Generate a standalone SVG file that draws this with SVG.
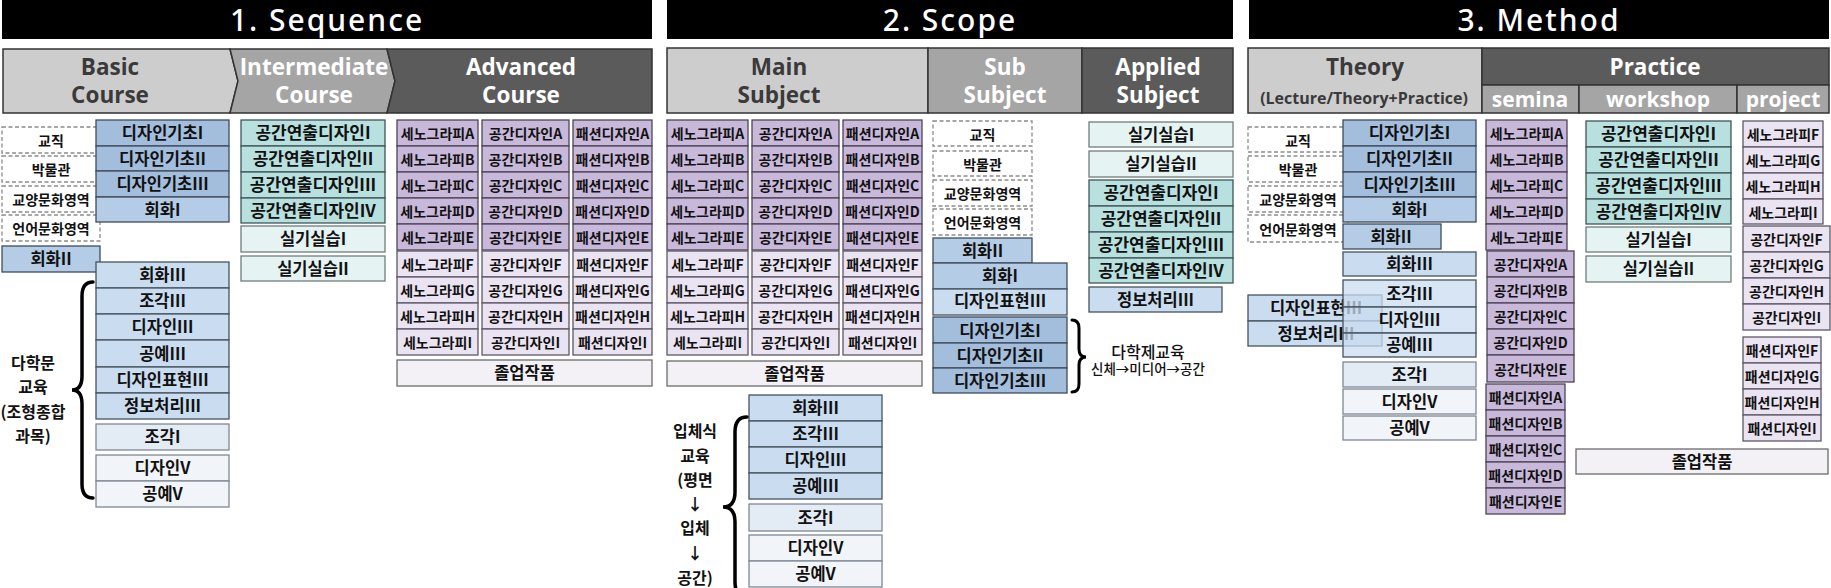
<svg xmlns="http://www.w3.org/2000/svg" width="1831" height="588" viewBox="0 0 1831 588">
<style>
text{font-family:"Noto Sans CJK KR","Noto Sans",sans-serif;font-weight:700;font-size:16.5px;fill:#111;text-anchor:middle}
rect{stroke-width:1.3}
g[class] > text{transform:translateY(1px)}
.title rect{fill:#000;stroke:none}
.title text{font-family:"Noto Sans","Noto Sans CJK KR",sans-serif;font-weight:500;font-size:30px;fill:#fff;letter-spacing:2px;transform:none}
.hd text{font-family:"Open Sans","Noto Sans",sans-serif;font-weight:700;font-size:22.5px;transform:none}
.hd .w{fill:#fff}
.hd .k{fill:#3a3a3a}
.hl{fill:#cdcdcd;stroke:#333;stroke-width:1.5}
.hm{fill:#a5a5a5;stroke:#333;stroke-width:1.5}
.hk{fill:#5b5b5b;stroke:#333;stroke-width:1.5}
.db rect{fill:#a3bedd;stroke:#3f4c5c}
.mb rect{fill:#b5cce6;stroke:#3f4c5c}
.lb rect{fill:#cadcf0;stroke:#46525f}
.vb rect{fill:#e3ebf5;stroke:#7f8893}
.wb rect{fill:#f1f4f9;stroke:#7f8893}
.tl rect{fill:#b8e0df;stroke:#3f5656}
.lt rect{fill:#e5f3f3;stroke:#707d7d}
.pp rect{fill:#c8b8da;stroke:#4d4656}
.lp rect{fill:#eae4f2;stroke:#5d5766}
.gw rect{fill:#f3f1f6;stroke:#6b6b6b}
.ds rect{fill:#fff;stroke:#8c8c8c;stroke-dasharray:4 2.5}
.tl text{font-size:17px}
.pp text,.lp text{font-size:14px}
.ds text{font-size:14px}
.ov rect{fill-opacity:0.75}
.brace{fill:none;stroke:#000;stroke-width:3.5;stroke-linecap:round}
.note text{font-size:16px;transform:none}
</style>

<!-- ===== 1. SEQUENCE ===== -->
<g id="title-sequence" class="title"><rect x="2" y="0" width="650" height="39"/><text x="327" y="30">1. Sequence</text></g>
<g id="hdr-sequence" class="hd">
<polygon class="hl" points="3,49 230,49 238,81 230,113 3,113"/>
<polygon class="hm" points="230,49 387,49 395,81 387,113 230,113 238,81"/>
<polygon class="hk" points="387,49 652,49 652,113 387,113 395,81"/>
<text class="k" x="110" y="74">Basic</text><text class="k" x="110" y="102">Course</text>
<text class="w" x="314" y="74">Intermediate</text><text class="w" x="314" y="102">Course</text>
<text class="w" x="521" y="74">Advanced</text><text class="w" x="521" y="102">Course</text>
</g>

<g id="seq-kyojik" class="ds"><rect x="2" y="127" width="98" height="26"/><text x="51" y="145">교직</text></g>
<g id="seq-museum" class="ds"><rect x="2" y="156" width="98" height="26"/><text x="51" y="174">박물관</text></g>
<g id="seq-gyoyang" class="ds"><rect x="2" y="186" width="98" height="26"/><text x="51" y="204">교양문화영역</text></g>
<g id="seq-eoneo" class="ds"><rect x="2" y="215" width="98" height="26"/><text x="51" y="233">언어문화영역</text></g>
<g id="seq-hoehwa2" class="mb"><rect x="2" y="246" width="98" height="26"/><text x="51" y="264">회화II</text></g>

<g id="seq-dk1" class="db"><rect x="96" y="120" width="133" height="26"/><text x="162.5" y="138">디자인기초I</text></g>
<g id="seq-dk2" class="db"><rect x="96" y="146" width="133" height="25"/><text x="162.5" y="163.5">디자인기초II</text></g>
<g id="seq-dk3" class="db"><rect x="96" y="171" width="133" height="26"/><text x="162.5" y="189">디자인기초III</text></g>
<g id="seq-hoehwa1" class="mb"><rect x="96" y="197" width="133" height="25"/><text x="162.5" y="214.5">회화I</text></g>

<g id="seq-hoehwa3" class="lb"><rect x="96" y="262" width="133" height="26"/><text x="162.5" y="280">회화III</text></g>
<g id="seq-jogak3" class="lb"><rect x="96" y="288" width="133" height="26"/><text x="162.5" y="306">조각III</text></g>
<g id="seq-design3" class="lb"><rect x="96" y="314" width="133" height="26"/><text x="162.5" y="332">디자인III</text></g>
<g id="seq-gongye3" class="lb"><rect x="96" y="340" width="133" height="27"/><text x="162.5" y="358.5">공예III</text></g>
<g id="seq-dexp3" class="lb"><rect x="96" y="367" width="133" height="26"/><text x="162.5" y="385">디자인표현III</text></g>
<g id="seq-info3" class="lb"><rect x="96" y="393" width="133" height="26"/><text x="162.5" y="411">정보처리III</text></g>
<g id="seq-jogak1" class="vb"><rect x="96" y="424" width="133" height="26"/><text x="162.5" y="442">조각I</text></g>
<g id="seq-design5" class="wb"><rect x="96" y="455" width="133" height="26"/><text x="162.5" y="473">디자인V</text></g>
<g id="seq-gongye5" class="wb"><rect x="96" y="481" width="133" height="26"/><text x="162.5" y="499">공예V</text></g>

<g id="seq-note" class="note"><text x="33" y="368">다학문</text><text x="33" y="392">교육</text><text x="33" y="417">(조형종합</text><text x="33" y="441">과목)</text></g>

<g id="seq-gy1" class="tl"><rect x="241" y="120" width="144" height="26"/><text x="313" y="138">공간연출디자인I</text></g>
<g id="seq-gy2" class="tl"><rect x="241" y="146" width="144" height="26"/><text x="313" y="164">공간연출디자인II</text></g>
<g id="seq-gy3" class="tl"><rect x="241" y="172" width="144" height="26"/><text x="313" y="190">공간연출디자인III</text></g>
<g id="seq-gy4" class="tl"><rect x="241" y="198" width="144" height="25"/><text x="313" y="215.5">공간연출디자인IV</text></g>
<g id="seq-sg1" class="lt"><rect x="241" y="226" width="144" height="26"/><text x="313" y="244">실기실습I</text></g>
<g id="seq-sg2" class="lt"><rect x="241" y="256" width="144" height="25"/><text x="313" y="273.5">실기실습II</text></g>

<g id="seq-senoA" class="pp"><rect x="397" y="120" width="81" height="26"/><text x="437.5" y="138">세노그라피A</text></g>
<g id="seq-senoB" class="pp"><rect x="397" y="146" width="81" height="26"/><text x="437.5" y="164">세노그라피B</text></g>
<g id="seq-senoC" class="pp"><rect x="397" y="172" width="81" height="26"/><text x="437.5" y="190">세노그라피C</text></g>
<g id="seq-senoD" class="pp"><rect x="397" y="198" width="81" height="26"/><text x="437.5" y="216">세노그라피D</text></g>
<g id="seq-senoE" class="pp"><rect x="397" y="224" width="81" height="26"/><text x="437.5" y="242">세노그라피E</text></g>
<g id="seq-senoF" class="lp"><rect x="397" y="251" width="81" height="26"/><text x="437.5" y="269">세노그라피F</text></g>
<g id="seq-senoG" class="lp"><rect x="397" y="277" width="81" height="26"/><text x="437.5" y="295">세노그라피G</text></g>
<g id="seq-senoH" class="lp"><rect x="397" y="303" width="81" height="26"/><text x="437.5" y="321">세노그라피H</text></g>
<g id="seq-senoI" class="lp"><rect x="397" y="329" width="81" height="26"/><text x="437.5" y="347">세노그라피I</text></g>

<g id="seq-gongA" class="pp"><rect x="482" y="120" width="87" height="26"/><text x="525.5" y="138">공간디자인A</text></g>
<g id="seq-gongB" class="pp"><rect x="482" y="146" width="87" height="26"/><text x="525.5" y="164">공간디자인B</text></g>
<g id="seq-gongC" class="pp"><rect x="482" y="172" width="87" height="26"/><text x="525.5" y="190">공간디자인C</text></g>
<g id="seq-gongD" class="pp"><rect x="482" y="198" width="87" height="26"/><text x="525.5" y="216">공간디자인D</text></g>
<g id="seq-gongE" class="pp"><rect x="482" y="224" width="87" height="26"/><text x="525.5" y="242">공간디자인E</text></g>
<g id="seq-gongF" class="lp"><rect x="482" y="251" width="87" height="26"/><text x="525.5" y="269">공간디자인F</text></g>
<g id="seq-gongG" class="lp"><rect x="482" y="277" width="87" height="26"/><text x="525.5" y="295">공간디자인G</text></g>
<g id="seq-gongH" class="lp"><rect x="482" y="303" width="87" height="26"/><text x="525.5" y="321">공간디자인H</text></g>
<g id="seq-gongI" class="lp"><rect x="482" y="329" width="87" height="26"/><text x="525.5" y="347">공간디자인I</text></g>

<g id="seq-fashA" class="pp"><rect x="573" y="120" width="79" height="26"/><text x="612.5" y="138">패션디자인A</text></g>
<g id="seq-fashB" class="pp"><rect x="573" y="146" width="79" height="26"/><text x="612.5" y="164">패션디자인B</text></g>
<g id="seq-fashC" class="pp"><rect x="573" y="172" width="79" height="26"/><text x="612.5" y="190">패션디자인C</text></g>
<g id="seq-fashD" class="pp"><rect x="573" y="198" width="79" height="26"/><text x="612.5" y="216">패션디자인D</text></g>
<g id="seq-fashE" class="pp"><rect x="573" y="224" width="79" height="26"/><text x="612.5" y="242">패션디자인E</text></g>
<g id="seq-fashF" class="lp"><rect x="573" y="251" width="79" height="26"/><text x="612.5" y="269">패션디자인F</text></g>
<g id="seq-fashG" class="lp"><rect x="573" y="277" width="79" height="26"/><text x="612.5" y="295">패션디자인G</text></g>
<g id="seq-fashH" class="lp"><rect x="573" y="303" width="79" height="26"/><text x="612.5" y="321">패션디자인H</text></g>
<g id="seq-fashI" class="lp"><rect x="573" y="329" width="79" height="26"/><text x="612.5" y="347">패션디자인I</text></g>
<g id="seq-grad" class="gw"><rect x="397" y="360" width="255" height="26"/><text x="524.5" y="378">졸업작품</text></g>

<!-- ===== 2. SCOPE ===== -->
<g id="title-scope" class="title"><rect x="667" y="0" width="566" height="39"/><text x="950" y="30">2. Scope</text></g>
<g id="hdr-scope" class="hd">
<rect class="hl" x="667" y="48" width="261" height="65"/>
<rect class="hm" x="928" y="48" width="154" height="65"/>
<rect class="hk" x="1082" y="48" width="151" height="65"/>
<text class="k" x="779" y="74">Main</text><text class="k" x="779" y="102">Subject</text>
<text class="w" x="1005" y="74">Sub</text><text class="w" x="1005" y="102">Subject</text>
<text class="w" x="1158" y="74">Applied</text><text class="w" x="1158" y="102">Subject</text>
</g>

<g id="sc-senoA" class="pp"><rect x="667" y="120" width="81" height="26"/><text x="707.5" y="138">세노그라피A</text></g>
<g id="sc-senoB" class="pp"><rect x="667" y="146" width="81" height="26"/><text x="707.5" y="164">세노그라피B</text></g>
<g id="sc-senoC" class="pp"><rect x="667" y="172" width="81" height="26"/><text x="707.5" y="190">세노그라피C</text></g>
<g id="sc-senoD" class="pp"><rect x="667" y="198" width="81" height="26"/><text x="707.5" y="216">세노그라피D</text></g>
<g id="sc-senoE" class="pp"><rect x="667" y="224" width="81" height="26"/><text x="707.5" y="242">세노그라피E</text></g>
<g id="sc-senoF" class="lp"><rect x="667" y="251" width="81" height="26"/><text x="707.5" y="269">세노그라피F</text></g>
<g id="sc-senoG" class="lp"><rect x="667" y="277" width="81" height="26"/><text x="707.5" y="295">세노그라피G</text></g>
<g id="sc-senoH" class="lp"><rect x="667" y="303" width="81" height="26"/><text x="707.5" y="321">세노그라피H</text></g>
<g id="sc-senoI" class="lp"><rect x="667" y="329" width="81" height="26"/><text x="707.5" y="347">세노그라피I</text></g>

<g id="sc-gongA" class="pp"><rect x="752" y="120" width="87" height="26"/><text x="795.5" y="138">공간디자인A</text></g>
<g id="sc-gongB" class="pp"><rect x="752" y="146" width="87" height="26"/><text x="795.5" y="164">공간디자인B</text></g>
<g id="sc-gongC" class="pp"><rect x="752" y="172" width="87" height="26"/><text x="795.5" y="190">공간디자인C</text></g>
<g id="sc-gongD" class="pp"><rect x="752" y="198" width="87" height="26"/><text x="795.5" y="216">공간디자인D</text></g>
<g id="sc-gongE" class="pp"><rect x="752" y="224" width="87" height="26"/><text x="795.5" y="242">공간디자인E</text></g>
<g id="sc-gongF" class="lp"><rect x="752" y="251" width="87" height="26"/><text x="795.5" y="269">공간디자인F</text></g>
<g id="sc-gongG" class="lp"><rect x="752" y="277" width="87" height="26"/><text x="795.5" y="295">공간디자인G</text></g>
<g id="sc-gongH" class="lp"><rect x="752" y="303" width="87" height="26"/><text x="795.5" y="321">공간디자인H</text></g>
<g id="sc-gongI" class="lp"><rect x="752" y="329" width="87" height="26"/><text x="795.5" y="347">공간디자인I</text></g>

<g id="sc-fashA" class="pp"><rect x="843" y="120" width="79" height="26"/><text x="882.5" y="138">패션디자인A</text></g>
<g id="sc-fashB" class="pp"><rect x="843" y="146" width="79" height="26"/><text x="882.5" y="164">패션디자인B</text></g>
<g id="sc-fashC" class="pp"><rect x="843" y="172" width="79" height="26"/><text x="882.5" y="190">패션디자인C</text></g>
<g id="sc-fashD" class="pp"><rect x="843" y="198" width="79" height="26"/><text x="882.5" y="216">패션디자인D</text></g>
<g id="sc-fashE" class="pp"><rect x="843" y="224" width="79" height="26"/><text x="882.5" y="242">패션디자인E</text></g>
<g id="sc-fashF" class="lp"><rect x="843" y="251" width="79" height="26"/><text x="882.5" y="269">패션디자인F</text></g>
<g id="sc-fashG" class="lp"><rect x="843" y="277" width="79" height="26"/><text x="882.5" y="295">패션디자인G</text></g>
<g id="sc-fashH" class="lp"><rect x="843" y="303" width="79" height="26"/><text x="882.5" y="321">패션디자인H</text></g>
<g id="sc-fashI" class="lp"><rect x="843" y="329" width="79" height="26"/><text x="882.5" y="347">패션디자인I</text></g>
<g id="sc-grad" class="gw"><rect x="667" y="361" width="255" height="25"/><text x="794.5" y="378.5">졸업작품</text></g>

<g id="sc-kyojik" class="ds"><rect x="933" y="121" width="99" height="25"/><text x="982.5" y="138.5">교직</text></g>
<g id="sc-museum" class="ds"><rect x="933" y="151" width="99" height="25"/><text x="982.5" y="168.5">박물관</text></g>
<g id="sc-gyoyang" class="ds"><rect x="933" y="180" width="99" height="26"/><text x="982.5" y="198">교양문화영역</text></g>
<g id="sc-eoneo" class="ds"><rect x="933" y="209" width="99" height="26"/><text x="982.5" y="227">언어문화영역</text></g>
<g id="sc-hoehwa2" class="mb"><rect x="933" y="238" width="99" height="25"/><text x="982.5" y="255.5">회화II</text></g>
<g id="sc-hoehwa1" class="mb"><rect x="933" y="263" width="134" height="26"/><text x="1000" y="281">회화I</text></g>
<g id="sc-dexp3" class="lb"><rect x="933" y="289" width="134" height="26"/><text x="1000" y="306">디자인표현III</text></g>
<g id="sc-dk1" class="db"><rect x="933" y="317" width="134" height="26"/><text x="1000" y="335.5">디자인기초I</text></g>
<g id="sc-dk2" class="db"><rect x="933" y="343" width="134" height="25"/><text x="1000" y="360.5">디자인기초II</text></g>
<g id="sc-dk3" class="db"><rect x="933" y="368" width="134" height="25"/><text x="1000" y="385.5">디자인기초III</text></g>
<g id="sc-note1"><text x="1148" y="358" style="font-weight:500;font-size:16px">다학제교육</text><text x="1148" y="374" style="font-weight:500;font-size:13.5px">신체→미디어→공간</text></g>

<g id="sc-sg1" class="lt"><rect x="1089" y="122" width="144" height="25"/><text x="1161" y="139.5">실기실습I</text></g>
<g id="sc-sg2" class="lt"><rect x="1089" y="151" width="144" height="26"/><text x="1161" y="169">실기실습II</text></g>
<g id="sc-gy1" class="tl"><rect x="1089" y="180" width="144" height="26"/><text x="1161" y="198">공간연출디자인I</text></g>
<g id="sc-gy2" class="tl"><rect x="1089" y="206" width="144" height="26"/><text x="1161" y="224">공간연출디자인II</text></g>
<g id="sc-gy3" class="tl"><rect x="1089" y="232" width="144" height="26"/><text x="1161" y="250">공간연출디자인III</text></g>
<g id="sc-gy4" class="tl"><rect x="1089" y="258" width="144" height="25"/><text x="1161" y="275.5">공간연출디자인IV</text></g>
<g id="sc-info3" class="lb"><rect x="1089" y="287" width="133" height="25"/><text x="1155.5" y="304.5">정보처리III</text></g>

<g id="sc-hoehwa3" class="lb"><rect x="749" y="395" width="133" height="26"/><text x="815.5" y="413">회화III</text></g>
<g id="sc-jogak3" class="lb"><rect x="749" y="421" width="133" height="26"/><text x="815.5" y="439">조각III</text></g>
<g id="sc-design3" class="lb"><rect x="749" y="447" width="133" height="26"/><text x="815.5" y="465">디자인III</text></g>
<g id="sc-gongye3" class="lb"><rect x="749" y="473" width="133" height="26"/><text x="815.5" y="491">공예III</text></g>
<g id="sc-jogak1" class="vb"><rect x="749" y="504" width="133" height="27"/><text x="815.5" y="522.5">조각I</text></g>
<g id="sc-design5" class="wb"><rect x="749" y="535" width="133" height="26"/><text x="815.5" y="553">디자인V</text></g>
<g id="sc-gongye5" class="wb"><rect x="749" y="561" width="133" height="26"/><text x="815.5" y="579">공예V</text></g>
<g id="sc-note2" class="note"><text x="695" y="436">입체식</text><text x="695" y="461">교육</text><text x="695" y="485">(평면</text><text x="695" y="509">↓</text><text x="695" y="533">입체</text><text x="695" y="558">↓</text><text x="695" y="583">공간)</text></g>

<!-- ===== 3. METHOD ===== -->
<g id="title-method" class="title"><rect x="1249" y="0" width="580" height="39"/><text x="1539" y="30">3. Method</text></g>
<g id="hdr-method" class="hd">
<rect class="hl" x="1248" y="48" width="234" height="65"/>
<rect class="hk" x="1482" y="48" width="347" height="37"/>
<rect class="hm" x="1482" y="85" width="97" height="28"/>
<rect class="hm" x="1579" y="85" width="158" height="28"/>
<rect class="hm" x="1737" y="85" width="92" height="28"/>
<text class="k" x="1365" y="74">Theory</text>
<text class="k" x="1364" y="103" style="font-size:16px">(Lecture/Theory+Practice)</text>
<text class="w" x="1655" y="74">Practice</text>
<text class="w" x="1530" y="106" style="font-size:21px">semina</text>
<text class="w" x="1658" y="106" style="font-size:21px">workshop</text>
<text class="w" x="1783" y="106" style="font-size:21px">project</text>
</g>

<g id="mt-kyojik" class="ds"><rect x="1248" y="127" width="100" height="25"/><text x="1298" y="144.5">교직</text></g>
<g id="mt-museum" class="ds"><rect x="1248" y="156" width="100" height="26"/><text x="1298" y="174">박물관</text></g>
<g id="mt-gyoyang" class="ds"><rect x="1248" y="186" width="100" height="26"/><text x="1298" y="204">교양문화영역</text></g>
<g id="mt-eoneo" class="ds"><rect x="1248" y="215" width="100" height="27"/><text x="1298" y="233.5">언어문화영역</text></g>

<g id="mt-dk1" class="db"><rect x="1343" y="120" width="133" height="26"/><text x="1409.5" y="138">디자인기초I</text></g>
<g id="mt-dk2" class="db"><rect x="1343" y="146" width="133" height="26"/><text x="1409.5" y="164">디자인기초II</text></g>
<g id="mt-dk3" class="db"><rect x="1343" y="172" width="133" height="25"/><text x="1409.5" y="189.5">디자인기초III</text></g>
<g id="mt-hoehwa1" class="mb"><rect x="1343" y="197" width="133" height="25"/><text x="1409.5" y="214.5">회화I</text></g>
<g id="mt-hoehwa2" class="mb"><rect x="1343" y="224" width="98" height="25"/><text x="1391" y="241.5">회화II</text></g>
<g id="mt-hoehwa3" class="lb"><rect x="1343" y="252" width="133" height="24"/><text x="1409.5" y="269">회화III</text></g>
<g id="mt-dexp3" class="lb"><rect x="1248" y="295" width="134" height="26"/><text x="1316" y="313">디자인표현III</text></g>
<g id="mt-info3" class="lb"><rect x="1248" y="321" width="134" height="25"/><text x="1316" y="338.5">정보처리III</text></g>
<g id="mt-jogak3" class="lb ov"><rect x="1343" y="280" width="133" height="27"/><text x="1409.5" y="298.5">조각III</text></g>
<g id="mt-design3" class="lb ov"><rect x="1343" y="307" width="133" height="26"/><text x="1409.5" y="325">디자인III</text></g>
<g id="mt-gongye3" class="lb ov"><rect x="1343" y="333" width="133" height="24"/><text x="1409.5" y="350">공예III</text></g>
<g id="mt-jogak1" class="vb"><rect x="1343" y="362" width="133" height="25"/><text x="1409.5" y="379.5">조각I</text></g>
<g id="mt-design5" class="wb"><rect x="1343" y="389" width="133" height="25"/><text x="1409.5" y="406.5">디자인V</text></g>
<g id="mt-gongye5" class="wb"><rect x="1343" y="416" width="133" height="24"/><text x="1409.5" y="433">공예V</text></g>

<g id="mt-senoA" class="pp"><rect x="1486" y="120" width="81" height="26"/><text x="1526.5" y="138">세노그라피A</text></g>
<g id="mt-senoB" class="pp"><rect x="1486" y="146" width="81" height="26"/><text x="1526.5" y="164">세노그라피B</text></g>
<g id="mt-senoC" class="pp"><rect x="1486" y="172" width="81" height="26"/><text x="1526.5" y="190">세노그라피C</text></g>
<g id="mt-senoD" class="pp"><rect x="1486" y="198" width="81" height="26"/><text x="1526.5" y="216">세노그라피D</text></g>
<g id="mt-senoE" class="pp"><rect x="1486" y="224" width="81" height="26"/><text x="1526.5" y="242">세노그라피E</text></g>
<g id="mt-gongA" class="pp"><rect x="1487" y="251" width="87" height="26"/><text x="1530.5" y="269">공간디자인A</text></g>
<g id="mt-gongB" class="pp"><rect x="1487" y="277" width="87" height="26"/><text x="1530.5" y="295">공간디자인B</text></g>
<g id="mt-gongC" class="pp"><rect x="1487" y="303" width="87" height="26"/><text x="1530.5" y="321">공간디자인C</text></g>
<g id="mt-gongD" class="pp"><rect x="1487" y="329" width="87" height="26"/><text x="1530.5" y="347">공간디자인D</text></g>
<g id="mt-gongE" class="pp"><rect x="1487" y="355" width="87" height="27"/><text x="1530.5" y="373.5">공간디자인E</text></g>
<g id="mt-fashA" class="pp"><rect x="1486" y="384" width="79" height="26"/><text x="1525.5" y="402">패션디자인A</text></g>
<g id="mt-fashB" class="pp"><rect x="1486" y="410" width="79" height="26"/><text x="1525.5" y="428">패션디자인B</text></g>
<g id="mt-fashC" class="pp"><rect x="1486" y="436" width="79" height="26"/><text x="1525.5" y="454">패션디자인C</text></g>
<g id="mt-fashD" class="pp"><rect x="1486" y="462" width="79" height="26"/><text x="1525.5" y="480">패션디자인D</text></g>
<g id="mt-fashE" class="pp"><rect x="1486" y="488" width="79" height="26"/><text x="1525.5" y="506">패션디자인E</text></g>

<g id="mt-gy1" class="tl"><rect x="1586" y="121" width="145" height="26"/><text x="1658.5" y="139">공간연출디자인I</text></g>
<g id="mt-gy2" class="tl"><rect x="1586" y="147" width="145" height="26"/><text x="1658.5" y="165">공간연출디자인II</text></g>
<g id="mt-gy3" class="tl"><rect x="1586" y="173" width="145" height="26"/><text x="1658.5" y="191">공간연출디자인III</text></g>
<g id="mt-gy4" class="tl"><rect x="1586" y="199" width="145" height="25"/><text x="1658.5" y="216.5">공간연출디자인IV</text></g>
<g id="mt-sg1" class="lt"><rect x="1586" y="227" width="145" height="25"/><text x="1658.5" y="244.5">실기실습I</text></g>
<g id="mt-sg2" class="lt"><rect x="1586" y="256" width="145" height="26"/><text x="1658.5" y="274">실기실습II</text></g>

<g id="mt-senoF" class="lp"><rect x="1743" y="121" width="80" height="26"/><text x="1783" y="139">세노그라피F</text></g>
<g id="mt-senoG" class="lp"><rect x="1743" y="147" width="80" height="26"/><text x="1783" y="165">세노그라피G</text></g>
<g id="mt-senoH" class="lp"><rect x="1743" y="173" width="80" height="26"/><text x="1783" y="191">세노그라피H</text></g>
<g id="mt-senoI" class="lp"><rect x="1743" y="199" width="80" height="25"/><text x="1783" y="216.5">세노그라피I</text></g>
<g id="mt-gongF" class="lp"><rect x="1743" y="226" width="87" height="26"/><text x="1786.5" y="244">공간디자인F</text></g>
<g id="mt-gongG" class="lp"><rect x="1743" y="252" width="87" height="26"/><text x="1786.5" y="270">공간디자인G</text></g>
<g id="mt-gongH" class="lp"><rect x="1743" y="278" width="87" height="26"/><text x="1786.5" y="296">공간디자인H</text></g>
<g id="mt-gongI" class="lp"><rect x="1743" y="304" width="87" height="26"/><text x="1786.5" y="322">공간디자인I</text></g>
<g id="mt-fashF" class="lp"><rect x="1743" y="337" width="78" height="26"/><text x="1782" y="355">패션디자인F</text></g>
<g id="mt-fashG" class="lp"><rect x="1743" y="363" width="78" height="26"/><text x="1782" y="381">패션디자인G</text></g>
<g id="mt-fashH" class="lp"><rect x="1743" y="389" width="78" height="26"/><text x="1782" y="407">패션디자인H</text></g>
<g id="mt-fashI" class="lp"><rect x="1743" y="415" width="78" height="26"/><text x="1782" y="433">패션디자인I</text></g>
<g id="mt-grad" class="gw"><rect x="1576" y="449" width="252" height="25"/><text x="1702" y="466.5">졸업작품</text></g>

<!-- connectors: braces -->
<g id="connectors">
<path class="brace" d="M93 282 Q82 282 82 296 L82 376 Q82 390 72 390 Q82 390 82 404 L82 484 Q82 498 93 498"/>
<path class="brace" style="stroke-width:3" d="M1072 320 Q1079 320 1079 328 L1079 349 Q1079 357 1086 357 Q1079 357 1079 365 L1079 384 Q1079 392 1072 392"/>
<path class="brace" d="M747 417 Q735 417 735 432 L735 492 Q735 507 723 507 Q735 507 735 522 L735 582 Q735 597 747 597"/>
</g>
</svg>
